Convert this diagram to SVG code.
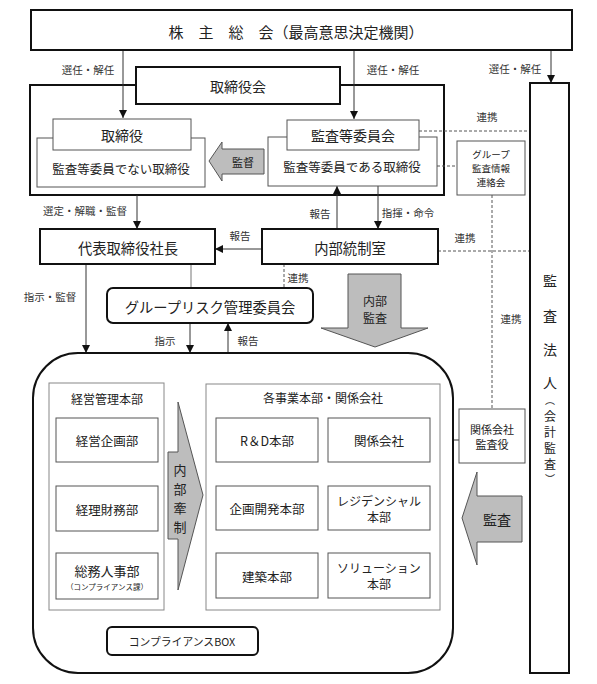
<svg xmlns="http://www.w3.org/2000/svg" width="597" height="684" viewBox="0 0 597 684">
<defs>
<style>
text{font-family:"Noto Sans CJK JP","Noto Sans",sans-serif;fill:#222;text-anchor:middle;dominant-baseline:central}
.thick{fill:#fff;stroke:#111;stroke-width:2}
.thin{fill:#fff;stroke:#555;stroke-width:1}
.grey{fill:#fff;stroke:#888;stroke-width:1}
.con{stroke:#333;stroke-width:1;fill:none}
.gcon{stroke:#777;stroke-width:1;fill:none}
.dash{stroke:#555;stroke-width:1;fill:none;stroke-dasharray:3 2}
.blk{fill:#bdbdbd;stroke:#555;stroke-width:1}
.lbl{font-size:10.5px;fill:#333}
</style>
<marker id="ah" markerUnits="userSpaceOnUse" markerWidth="9" markerHeight="9" refX="8" refY="4" orient="auto">
<path d="M0,0 L8,4 L0,8 z" fill="#111"/>
</marker>
</defs>
<rect width="597" height="684" fill="#fff"/>

<g id="board-frame"><rect x="30" y="85" width="414" height="110" class="thick"/></g>

<g id="connectors">
<line x1="123" y1="50" x2="123" y2="118" class="con" marker-end="url(#ah)"/>
<line x1="354" y1="50" x2="354" y2="119" class="con" marker-end="url(#ah)"/>
<line x1="551" y1="50" x2="551" y2="83" class="con" marker-end="url(#ah)"/>
<line x1="137" y1="195" x2="137" y2="229" class="con" marker-end="url(#ah)"/>
<line x1="337" y1="229" x2="337" y2="186" class="con" marker-end="url(#ah)"/>
<line x1="378" y1="186" x2="378" y2="229" class="con" marker-end="url(#ah)"/>
<line x1="262" y1="249" x2="215" y2="249" class="con" marker-end="url(#ah)"/>
<line x1="86" y1="264" x2="86" y2="353" class="con" marker-end="url(#ah)"/>
<line x1="191" y1="264" x2="191" y2="288" class="gcon"/>
<line x1="190" y1="323" x2="190" y2="353" class="con" marker-end="url(#ah)"/>
<line x1="228" y1="353" x2="228" y2="323" class="con" marker-end="url(#ah)"/>
<line x1="459" y1="440" x2="430" y2="440" class="con" marker-end="url(#ah)"/>
<line x1="419" y1="131" x2="530" y2="131" class="dash"/>
<line x1="437" y1="166" x2="457" y2="166" class="dash"/>
<line x1="492" y1="195" x2="492" y2="409" class="dash"/>
<line x1="438" y1="251" x2="530" y2="251" class="dash"/>
<line x1="284" y1="264" x2="284" y2="288" class="dash"/>
<text x="88" y="69" class="lbl">選任・解任</text>
<text x="393" y="69" class="lbl">選任・解任</text>
<text x="515" y="68" class="lbl">選任・解任</text>
<text x="487" y="116" class="lbl">連携</text>
<text x="85" y="210" class="lbl">選定・解職・監督</text>
<text x="320" y="213" class="lbl">報告</text>
<text x="408" y="212" class="lbl">指揮・命令</text>
<text x="240" y="235" class="lbl">報告</text>
<text x="465" y="237" class="lbl">連携</text>
<text x="298" y="277" class="lbl">連携</text>
<text x="50" y="296" class="lbl">指示・監督</text>
<text x="511" y="318" class="lbl">連携</text>
<text x="165" y="340" class="lbl">指示</text>
<text x="248" y="340" class="lbl">報告</text>
</g>

<g id="shareholders"><rect x="31" y="10" width="541" height="40" class="thick"/>
<text x="296" y="31" font-size="15">株　主　総　会（最高意思決定機関）</text></g>

<g id="board"><rect x="136" y="67" width="204" height="37" class="thick"/>
<text x="238" y="86" font-size="14">取締役会</text></g>

<g id="directors"><rect x="37" y="138" width="168" height="49" class="thin"/>
<rect x="53" y="119" width="138" height="31" class="thin"/>
<text x="122" y="135" font-size="14">取締役</text>
<text x="121" y="168" font-size="12.5">監査等委員でない取締役</text></g>

<g id="audit-committee"><rect x="268" y="137" width="169" height="49" class="thin"/>
<rect x="287" y="120" width="132" height="30" class="thin"/>
<text x="353" y="135" font-size="14">監査等委員会</text>
<text x="352" y="166" font-size="12.5">監査等委員である取締役</text></g>

<g id="supervise-arrow"><polygon points="209,161 222,142 222,149 264,149 264,174 222,174 222,181" class="blk"/>
<text x="243" y="162" font-size="11">監督</text></g>

<g id="group-audit"><rect x="457" y="141" width="68" height="54" class="thin"/>
<text x="491" y="154" font-size="9.5">グループ</text>
<text x="491" y="168" font-size="9.5">監査情報</text>
<text x="491" y="182" font-size="9.5">連絡会</text></g>

<g id="auditor"><rect x="530" y="83" width="39" height="590" class="thick"/>
<text x="550" y="280" font-size="14">監</text>
<text x="550" y="315" font-size="14">査</text>
<text x="550" y="349" font-size="14">法</text>
<text x="550" y="382" font-size="14">人</text>
<text x="550" y="399" font-size="10">︵</text>
<text x="550" y="415" font-size="12">会</text>
<text x="550" y="431" font-size="12">計</text>
<text x="550" y="447" font-size="12">監</text>
<text x="550" y="463" font-size="12">査</text>
<text x="550" y="478" font-size="10">︶</text></g>

<g id="president"><rect x="40" y="229" width="175" height="35" class="thick"/>
<text x="128" y="247" font-size="14.3">代表取締役社長</text></g>

<g id="internal-control"><rect x="262" y="229" width="176" height="35" class="thick"/>
<text x="350" y="247" font-size="14.3">内部統制室</text></g>

<g id="risk-committee"><rect x="107" y="288" width="206" height="35" rx="6" class="thick"/>
<text x="210" y="306" font-size="14.3">グループリスク管理委員会</text></g>

<g id="internal-audit-arrow"><polygon points="348,274 401,274 401,328 428,328 375,347 321,328 348,328" class="blk"/>
<text x="375" y="300" font-size="12">内部</text>
<text x="375" y="317" font-size="12">監査</text></g>

<g id="compliance-box"><rect x="33" y="353" width="420" height="320" rx="45" class="thick" fill="none"/></g>

<g id="management-hq"><rect x="49" y="383" width="115" height="227" class="grey"/>
<text x="107" y="398" font-size="12">経営管理本部</text>
<rect x="56" y="418" width="102" height="44" class="thin"/>
<text x="107" y="440" font-size="12.5">経営企画部</text>
<rect x="56" y="486" width="102" height="45" class="thin"/>
<text x="107" y="509" font-size="12.5">経理財務部</text>
<rect x="56" y="553" width="102" height="46" class="thin"/>
<text x="107" y="570" font-size="13">総務人事部</text>
<text x="107" y="586" font-size="7.5">（コンプライアンス課）</text></g>

<g id="check-arrow"><polygon points="168,452 178,452 178,402 203,495 178,590 178,539 168,539" class="blk"/>
<text x="180" y="469" font-size="13">内</text>
<text x="180" y="488" font-size="13">部</text>
<text x="180" y="507" font-size="13">牽</text>
<text x="180" y="526" font-size="13">制</text></g>

<g id="business-units"><rect x="206" y="384" width="234" height="226" class="grey"/>
<text x="323" y="397" font-size="12">各事業本部・関係会社</text>
<rect x="216" y="418" width="102" height="44" class="thin"/>
<text x="267" y="440" font-size="12.5">R＆D本部</text>
<rect x="328" y="418" width="102" height="44" class="thin"/>
<text x="379" y="440" font-size="12.5">関係会社</text>
<rect x="216" y="486" width="102" height="44" class="thin"/>
<text x="267" y="508" font-size="12.5">企画開発本部</text>
<rect x="328" y="486" width="102" height="44" class="thin"/>
<text x="379" y="500" font-size="12">レジデンシャル</text>
<text x="379" y="516" font-size="12">本部</text>
<rect x="216" y="553" width="102" height="45" class="thin"/>
<text x="267" y="576" font-size="12.5">建築本部</text>
<rect x="328" y="553" width="102" height="45" class="thin"/>
<text x="379" y="567" font-size="12">ソリューション</text>
<text x="379" y="583" font-size="12">本部</text></g>

<g id="affiliate-auditor"><rect x="459" y="409" width="66" height="54" class="thin"/>
<text x="492" y="429" font-size="11">関係会社</text>
<text x="492" y="444" font-size="11">監査役</text></g>

<g id="audit-arrow"><polygon points="462,518 477,472 477,496 522,496 522,542 477,542 477,565" class="blk"/>
<text x="497" y="519" font-size="14">監査</text></g>

<g id="compliance-box-label"><rect x="107" y="627" width="151" height="28" rx="5" class="thick"/>
<text x="182" y="641" font-size="10.8">コンプライアンスBOX</text></g>
</svg>
